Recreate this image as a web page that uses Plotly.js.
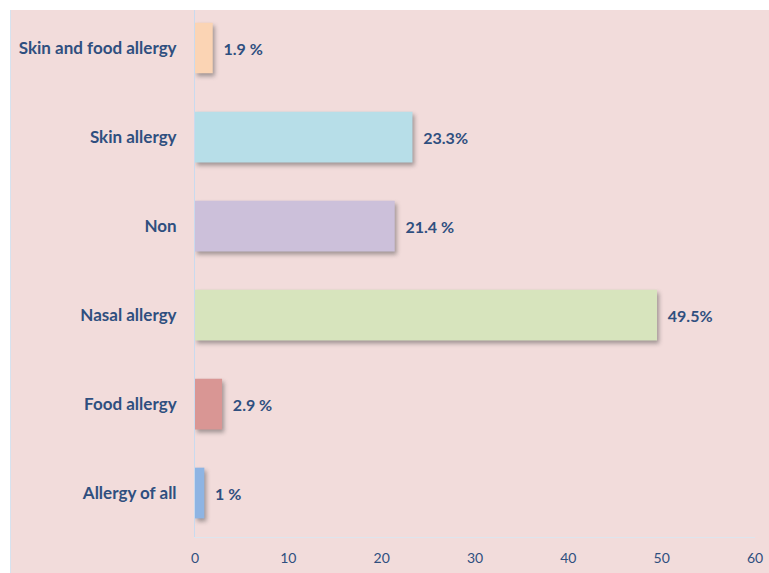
<!DOCTYPE html>
<html>
<head>
<meta charset="utf-8">
<script src="https://cdn.plot.ly/plotly-3.0.1.min.js"></script>
<style>
  html, body { margin: 0; padding: 0; background: #ffffff; }
  #chart { position: absolute; left: 10px; top: 10px; width: 759px; height: 563px; border-left: 1px solid #d6e3f0; box-sizing: border-box; }
  #chart .bars .point path { filter: drop-shadow(2px 3px 2px rgba(60,60,60,0.45)); }
</style>
</head>
<body>
<div id="chart"></div>
<script>
const categories = ["Allergy of all", "Food allergy", "Nasal allergy", "Non", "Skin allergy", "Skin and food allergy"];
const values = [1, 2.9, 49.5, 21.4, 23.3, 1.9];
const valueLabels = ["1 %", "2.9 %", "49.5%", "21.4 %", "23.3%", "1.9 %"];
const barColors = ["#8EB4E3", "#D99694", "#D7E4BD", "#CCC0DA", "#B7DEE8", "#FBD4B4"];
const xTicks = [0, 10, 20, 30, 40, 50, 60];

const textColor = "#2F4F7F";
const trace = {
  type: "bar",
  orientation: "h",
  y: categories,
  x: values,
  width: 0.57,
  marker: { color: barColors },
  text: valueLabels,
  texttemplate: "\u00a0\u00a0%{text}",
  textposition: "outside",
  cliponaxis: false,
  textfont: { family: "Lato, 'Open Sans', sans-serif", size: 16, color: textColor, weight: "bold" },
  hoverinfo: "none"
};

const layout = {
  width: 758,
  height: 563,
  margin: { l: 184, r: 14, t: 0, b: 36 },
  paper_bgcolor: "#F2DCDB",
  plot_bgcolor: "#F2DCDB",
  showlegend: false,
  bargap: 0.43,
  xaxis: {
    range: [0, 60],
    tickvals: xTicks,
    ticktext: xTicks.map(String),
    showgrid: false,
    zeroline: false,
    showline: true,
    linecolor: "#DDE5EE",
    linewidth: 1,
    mirror: true,
    ticks: "outside",
    ticklen: 8,
    tickcolor: "rgba(0,0,0,0)",
    tickfont: { family: "Lato, 'Open Sans', sans-serif", size: 14, color: textColor }
  },
  yaxis: {
    type: "category",
    categoryorder: "array",
    categoryarray: categories,
    range: [-0.494, 5.427],
    showgrid: false,
    zeroline: false,
    showline: true,
    linecolor: "#C9DAEE",
    linewidth: 1,
    ticks: "outside",
    ticklen: 14,
    tickcolor: "rgba(0,0,0,0)",
    tickfont: { family: "Lato, 'Open Sans', sans-serif", size: 17, color: textColor, weight: "bold" }
  }
};

Plotly.newPlot("chart", [trace], layout, { displayModeBar: false, staticPlot: true });
</script>
</body>
</html>
